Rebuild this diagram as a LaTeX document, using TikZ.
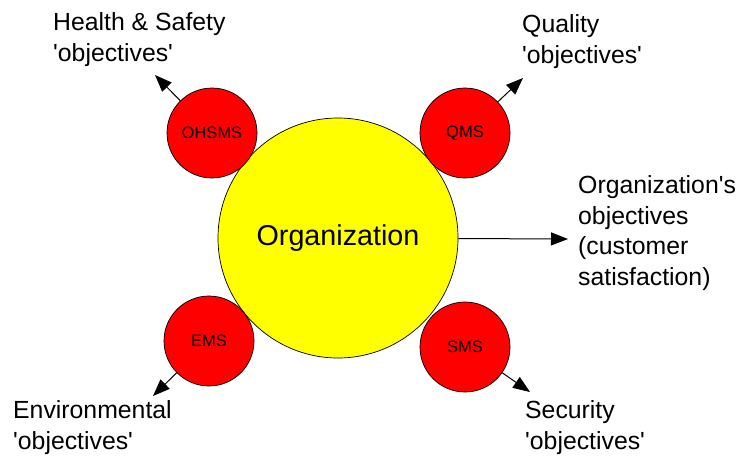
\documentclass[tikz,border=0pt]{standalone}
\usepackage{fontspec}
\setmainfont{Liberation Sans}
\usetikzlibrary{arrows.meta}
\definecolor{orgyellow}{RGB}{255,255,0}
\definecolor{sysred}{RGB}{255,0,0}
\newcommand{\sq}{\textquotesingle}
\begin{document}
\begin{tikzpicture}[x=1pt,y=-1pt,
  orgcircle/.style={circle,draw=black,line width=0.7pt,fill=orgyellow,minimum size=240pt,inner sep=0pt,font=\fontsize{28.7}{33}\selectfont},
  syscircle/.style={circle,draw=black,line width=0.7pt,fill=sysred,minimum size=90pt,inner sep=0pt,font=\fontsize{16.5}{19}\selectfont},
  goal/.style={anchor=base west,inner sep=0pt,align=left,font=\fontsize{24.8}{30.5}\selectfont},
  arr/.style={line width=1pt,-{Triangle[length=17pt,width=13pt]}}]
\useasboundingbox (0,0) rectangle (747,456);
\node[orgcircle] (org) at (338,238) {Organization};
\node[syscircle] (ohsms) at (212,133) {OHSMS};
\node[syscircle] (qms) at (465,133) {QMS};
\node[syscircle] (ems) at (209,341) {EMS};
\node[syscircle] (sms) at (465,347) {SMS};
\coordinate (t1) at (155,75);
\coordinate (t2) at (523,78);
\coordinate (t3) at (153,396);
\coordinate (t4) at (530,392);
\coordinate (t5) at (568,239);
\draw[arr] (ohsms) -- (t1);
\draw[arr] (qms) -- (t2);
\draw[arr] (ems) -- (t3);
\draw[arr] (sms) -- (t4);
\draw[arr] (org) -- (t5);
\node[goal] (hs) at (53,61) {Health \& Safety\\\sq objectives\sq};
\node[goal] (ql) at (522,63) {Quality\\\sq objectives\sq};
\node[goal] (env) at (13,449) {Environmental\\\sq objectives\sq};
\node[goal] (sec) at (525,449) {Security\\\sq objectives\sq};
\node[goal] (orgobj) at (578,285) {Organization\sq s\\objectives\\(customer\\satisfaction)};
\end{tikzpicture}
\end{document}
